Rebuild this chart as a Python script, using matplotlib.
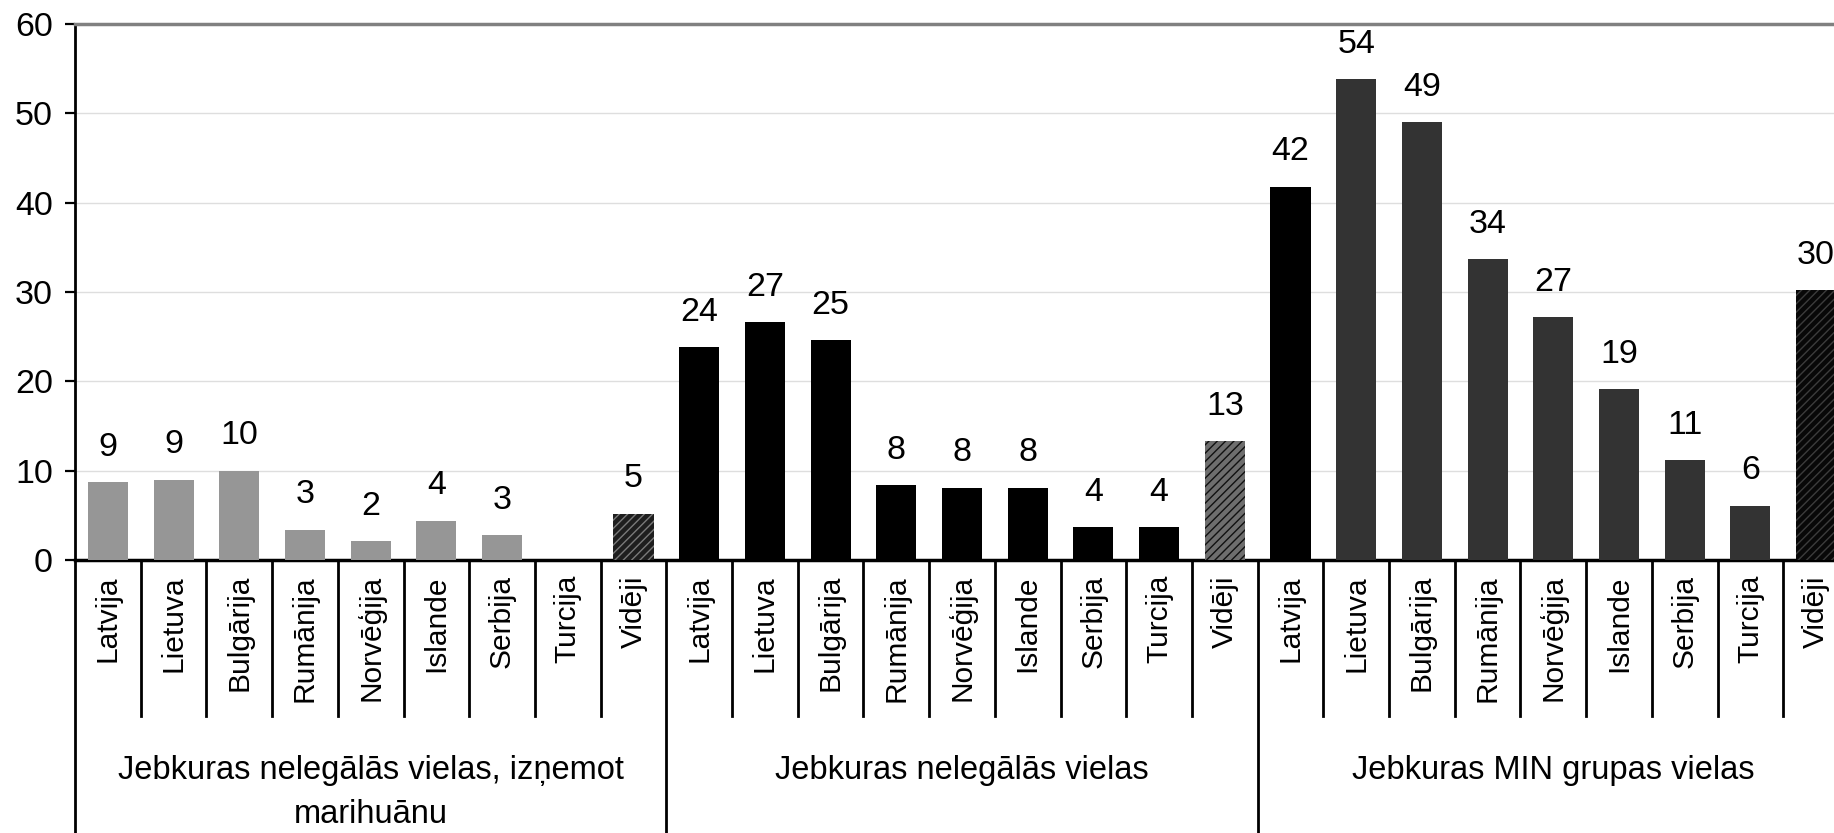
import numpy as np
import matplotlib
matplotlib.use("Agg")
import matplotlib.pyplot as plt

plt.rcParams['font.family'] = ['Liberation Sans', 'DejaVu Sans']
plt.rcParams['hatch.linewidth'] = 1.0

# Data
countries = ['Latvija', 'Lietuva', 'Bulgārija', 'Rumānija', 'Norvēģija',
             'Islande', 'Serbija', 'Turcija', 'Vidēji']
groups = ['Jebkuras nelegālās vielas, izņemot\nmarihuānu',
          'Jebkuras nelegālās vielas',
          'Jebkuras MIN grupas vielas']
vals_excl_marij = [8.7, 9.0, 10.0, 3.4, 2.1, 4.4, 2.8, np.nan, 5.2]
vals_illegal = [23.8, 26.6, 24.6, 8.4, 8.1, 8.1, 3.7, 3.7, 13.3]
vals_min = [41.8, 53.8, 49.0, 33.7, 27.2, 19.1, 11.2, 6.1, 30.2]

yticks = [0, 10, 20, 30, 40, 50, 60]

# colours per group: (normal bars, first bar, average face, average hatch)
group_style = [
    ('#969696', '#969696', '#1e1e1e', '#7a7a7a'),
    ('#000000', '#000000', '#6e6e6e', '#111111'),
    ('#333333', '#000000', '#080808', '#3c3c3c'),
]

all_vals = [vals_excl_marij, vals_illegal, vals_min]
n = len(countries)

fig = plt.figure(figsize=(18.34, 8.33), dpi=100)
ax = fig.add_axes([75 / 1834, 273 / 833, 1774 / 1834, 536 / 833])

for g, vals in enumerate(all_vals):
    main_c, first_c, avg_face, avg_hatch = group_style[g]
    xs = np.arange(n) + g * n
    for i, (x, v) in enumerate(zip(xs, vals)):
        if np.isnan(v):
            continue
        if i == n - 1:
            ax.bar(x, v, width=0.61, color=avg_face, edgecolor=avg_hatch,
                   linewidth=0, hatch='////', zorder=3)
        else:
            c = first_c if i == 0 else main_c
            ax.bar(x, v, width=0.61, color=c, linewidth=0, zorder=3)
        ax.annotate(f'{round(v):d}', (x, v), xytext=(0, 14),
                    textcoords='offset points', ha='center', va='bottom',
                    fontsize=24.5)

ax.set_xlim(-0.5, 3 * n - 0.5)
ax.set_ylim(0, 60)
ax.set_yticks(yticks)
ax.set_xticks([])
ax.tick_params(axis='y', direction='out', length=7, width=1.6,
               labelsize=24.5, pad=9)
ax.yaxis.grid(True, color='#dedede', linewidth=1)
ax.set_axisbelow(True)

ax.spines['right'].set_visible(False)
ax.spines['top'].set_color('#808080')
ax.spines['top'].set_linewidth(2.5)
ax.spines['left'].set_linewidth(2)
ax.spines['bottom'].set_linewidth(2.5)

# category labels and separators under the axis
trans = ax.get_xaxis_transform()
for g in range(3):
    for i, name in enumerate(countries):
        ax.text(g * n + i, -0.028, name, rotation=90, ha='center', va='top',
                fontsize=21.5, transform=trans)
for k in range(1, 3 * n):
    low = -0.51 if k % n == 0 else -0.291
    ax.plot([k - 0.5, k - 0.5], [0, low], color='black', lw=2,
            transform=trans, clip_on=False)
ax.plot([-0.5, -0.5], [0, -0.51], color='black', lw=2,
        transform=trans, clip_on=False)

for g, label in enumerate(groups):
    ax.text(g * n + (n - 1) / 2, -0.364, label, ha='center', va='top',
            fontsize=23.5, linespacing=1.55, transform=trans)

fig.savefig('out.png', dpi=100)
